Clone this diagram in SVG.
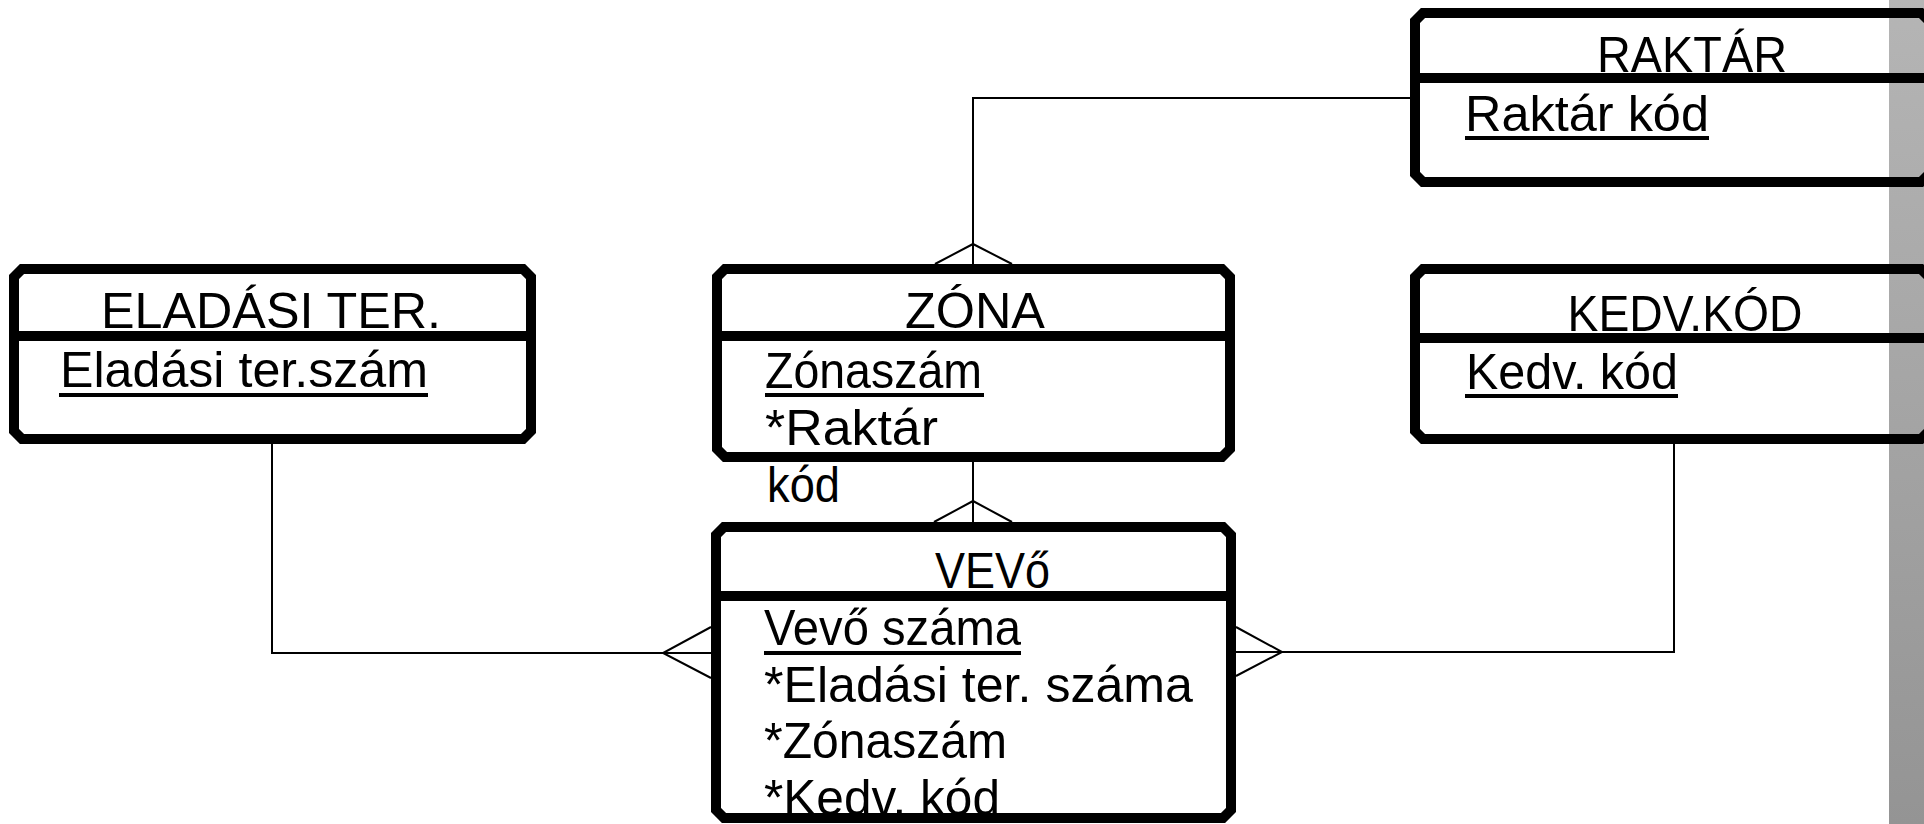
<svg xmlns="http://www.w3.org/2000/svg" width="1924" height="824" viewBox="0 0 1924 824">
<defs>
<linearGradient id="strip" x1="0" y1="0" x2="0" y2="1">
<stop offset="0" stop-color="#b5b5b5"/>
<stop offset="1" stop-color="#949494"/>
</linearGradient>
<style>
.box{fill:none;stroke:#000;stroke-width:10;stroke-linejoin:miter}
.div{stroke:#000;stroke-width:10}
.ul{stroke:#000;stroke-width:4}
.conn{fill:none;stroke:#000;stroke-width:2}
text{font-family:"Liberation Sans",Arial,sans-serif;font-size:50px;fill:#000}
.t{text-anchor:middle}
</style>
</defs>
<rect x="1889" y="0" width="35" height="824" fill="url(#strip)"/>
<g id="connectors">
<polyline class="conn" points="1410,98 973,98 973,264"/>
<polyline class="conn" points="935,264 973,244 1012,264"/>
<line class="conn" x1="973" y1="462" x2="973" y2="522"/>
<polyline class="conn" points="934,522 973,501 1012,522"/>
<polyline class="conn" points="272,444 272,653 711,653"/>
<polyline class="conn" points="711,627 663,653 711,678"/>
<polyline class="conn" points="1674,444 1674,652 1236,652"/>
<polyline class="conn" points="1236,627 1282,652 1236,676"/>
</g>
<g id="raktar">
<path class="box" d="M1423,13 H1921 L1929,21 V174 L1921,182 H1423 L1415,174 V21 Z"/>
<line class="div" x1="1415" y1="78" x2="1929" y2="78"/>
<text class="t" x="1692" y="72" textLength="190" lengthAdjust="spacingAndGlyphs">RAKTÁR</text>
<text x="1465" y="131" textLength="244" lengthAdjust="spacingAndGlyphs">Raktár kód</text>
<line class="ul" x1="1465" y1="138" x2="1709" y2="138"/>
</g>
<g id="eladasi">
<path class="box" d="M22,269 H523 L531,277 V431 L523,439 H22 L14,431 V277 Z"/>
<line class="div" x1="14" y1="336" x2="531" y2="336"/>
<text class="t" x="271" y="328" textLength="340" lengthAdjust="spacingAndGlyphs">ELADÁSI TER.</text>
<text x="60" y="387" textLength="368" lengthAdjust="spacingAndGlyphs">Eladási ter.szám</text>
<line class="ul" x1="59" y1="395" x2="428" y2="395"/>
</g>
<g id="zona">
<path class="box" d="M725,269 H1222 L1230,277 V449 L1222,457 H725 L717,449 V277 Z"/>
<line class="div" x1="717" y1="336" x2="1230" y2="336"/>
<text class="t" x="975" y="328" textLength="140" lengthAdjust="spacingAndGlyphs">ZÓNA</text>
<text x="765" y="388" textLength="217" lengthAdjust="spacingAndGlyphs">Zónaszám</text>
<line class="ul" x1="765" y1="395" x2="984" y2="395"/>
<text x="765" y="445" textLength="173" lengthAdjust="spacingAndGlyphs">*Raktár</text>
<text x="767" y="502" textLength="73" lengthAdjust="spacingAndGlyphs">kód</text>
</g>
<g id="kedv">
<path class="box" d="M1423,269 H1921 L1929,277 V431 L1921,439 H1423 L1415,431 V277 Z"/>
<line class="div" x1="1415" y1="338" x2="1929" y2="338"/>
<text class="t" x="1685" y="331" textLength="235" lengthAdjust="spacingAndGlyphs">KEDV.KÓD</text>
<text x="1466" y="389" textLength="212" lengthAdjust="spacingAndGlyphs">Kedv. kód</text>
<line class="ul" x1="1465" y1="396" x2="1678" y2="396"/>
</g>
<g id="vevo">
<path class="box" d="M724,527 H1223 L1231,535 V810 L1223,818 H724 L716,810 V535 Z"/>
<line class="div" x1="716" y1="596" x2="1231" y2="596"/>
<text x="935" y="588" textLength="115" lengthAdjust="spacingAndGlyphs">VEVő</text>
<text x="764" y="645" textLength="257" lengthAdjust="spacingAndGlyphs">Vevő száma</text>
<line class="ul" x1="764" y1="653" x2="1021" y2="653"/>
<text x="764" y="702" textLength="429" lengthAdjust="spacingAndGlyphs">*Eladási ter. száma</text>
<text x="764" y="758" textLength="243" lengthAdjust="spacingAndGlyphs">*Zónaszám</text>
<text x="764" y="815" textLength="236" lengthAdjust="spacingAndGlyphs">*Kedv. kód</text>
</g>
</svg>
